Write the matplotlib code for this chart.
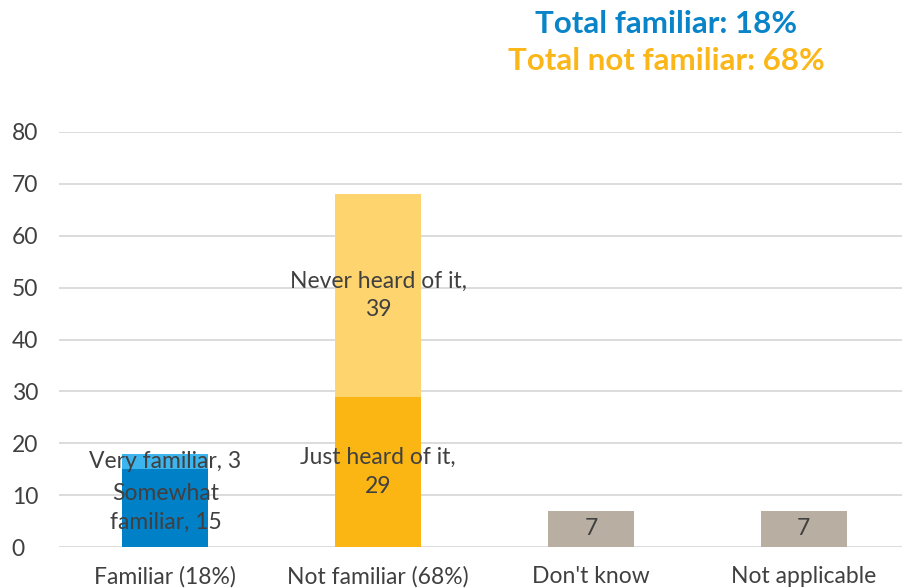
import matplotlib
matplotlib.use("Agg")
import matplotlib.pyplot as plt

categories = ["Familiar (18%)", "Not familiar (68%)", "Don't know", "Not applicable"]
bottom_labels = ["Somewhat\nfamiliar", "Just heard of it,\n", None, None]
bottom_values = [15, 29, 7, 7]
top_labels = ["Very familiar", "Never heard of it,\n", None, None]
top_values = [3, 39, 0, 0]
bottom_colors = ["#0080C6", "#FBB614", "#B8AEA1", "#B8AEA1"]
top_colors = ["#3CB4EE", "#FDD46D", "#B8AEA1", "#B8AEA1"]
yticks = [0, 10, 20, 30, 40, 50, 60, 70, 80]
title1 = "Total familiar: 18%"
title2 = "Total not familiar: 68%"

plt.rcParams['font.family'] = ['Lato', 'DejaVu Sans']
text_color = "#404040"

fig = plt.figure(figsize=(9.02, 5.88), dpi=100)
ax = fig.add_axes([59/902, 41/588, 851/902, 415/588])
x = list(range(len(categories)))
w = 0.405
ax.bar(x, bottom_values, width=w, color=bottom_colors, zorder=2)
ax.bar(x, top_values, width=w, bottom=bottom_values, color=top_colors, zorder=2)

lab_fs = 16.5
for i in x:
    b = bottom_values[i]
    t = top_values[i]
    if bottom_labels[i] is None:
        lab = f"{b}"
    elif bottom_labels[i].endswith("\n"):
        lab = f"{bottom_labels[i]}{b}"
    else:
        lab = f"{bottom_labels[i]}, {b}"
    ax.text(i, b / 2, lab, ha="center", va="center", fontsize=lab_fs,
            color=text_color, linespacing=1.45, zorder=3)
    if top_labels[i] is not None and t > 0:
        if top_labels[i].endswith("\n"):
            lab2 = f"{top_labels[i]}{t}"
        else:
            lab2 = f"{top_labels[i]}, {t}"
        ax.text(i, b + t / 2, lab2, ha="center", va="center", fontsize=lab_fs,
                color=text_color, linespacing=1.45, zorder=3)

ax.set_xlim(-0.5, len(categories) - 0.5)
ax.set_ylim(0, 80)
ax.set_yticks(yticks)
ax.set_xticks(x)
ax.set_xticklabels(categories)
ax.tick_params(axis="both", length=0, labelsize=16.5, colors=text_color)
ax.tick_params(axis="x", pad=14)
ax.tick_params(axis="y", pad=34)
for lab in ax.get_yticklabels():
    lab.set_horizontalalignment("left")
ax.grid(axis="y", color="#D9D9D9", linewidth=1.3, zorder=0)
for s in ax.spines.values():
    s.set_visible(False)

fig.text(666/902, 1 - 24/588, title1, ha="center", va="center", fontsize=22.5,
         fontweight="bold", color="#0A84C8")
fig.text(666/902, 1 - 61/588, title2, ha="center", va="center", fontsize=22.5,
         fontweight="bold", color="#FBB619")

fig.savefig("out.png", dpi=100)
